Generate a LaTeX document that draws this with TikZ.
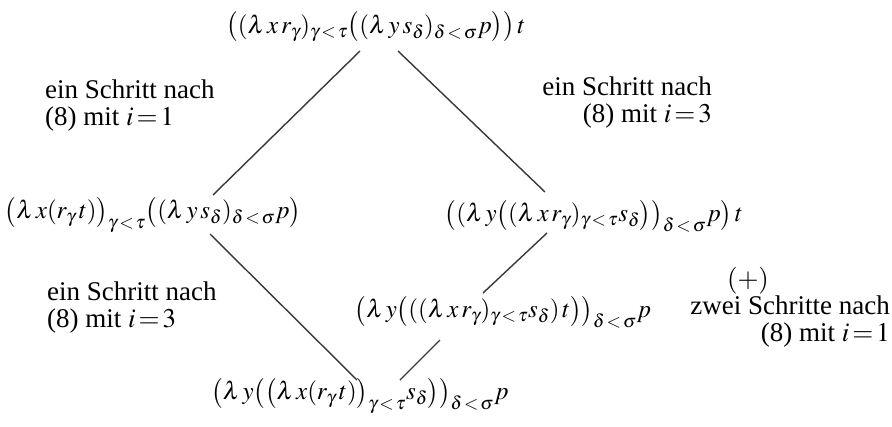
\documentclass[tikz,border=0pt]{standalone}
\usepackage{mathptmx}
\usepackage[no-math]{fontspec}
\setmainfont{Liberation Serif}
\usetikzlibrary{calc}
\tikzset{
  expr/.style={inner sep=0pt, font=\fontsize{25}{22}\selectfont},
  lbl/.style={inner sep=0pt, font=\fontsize{27}{25}\selectfont},
  conn/.style={line width=1.4pt, draw=black!78}
}
\begin{document}
\begin{tikzpicture}[x=1pt,y=-1pt]
\useasboundingbox (0,0) rectangle (892,426);
\node[expr] (top) at (376,27) {$\bigl((\lambda\,x\,r_\gamma)_{\gamma\,<\,\tau}\bigl((\lambda\,y\,s_\delta)_{\delta\,<\,\sigma}p\bigr)\bigr)\,t$};
\node[expr] (lm) at (153,215) {$\bigl(\lambda\,x(r_\gamma\,t)\bigr)_{\gamma\,<\,\tau}\bigl((\lambda\,y\,s_\delta)_{\delta\,<\,\sigma}p\bigr)$};
\node[expr] (rm) at (594,216) {$\bigl((\lambda\,y\bigl((\lambda\,x\,r_\gamma)_{\gamma\,<\,\tau}s_\delta\bigr)\bigr)_{\delta\,<\,\sigma}p\bigr)\,t$};
\node[expr] (low) at (503,312) {$\bigl(\lambda\,y\bigl(((\lambda\,x\,r_\gamma)_{\gamma\,<\,\tau}s_\delta)\,t\bigr)\bigr)_{\delta\,<\,\sigma}p$};
\node[expr] (bot) at (360,396) {$\bigl(\lambda\,y\bigl(\bigl(\lambda\,x(r_\gamma\,t)\bigr)_{\gamma\,<\,\tau}s_\delta\bigr)\bigr)_{\delta\,<\,\sigma}p$};

\node[lbl, anchor=west, align=left] (l1) at (45,106) {ein Schritt nach\\[2pt](8) mit $i\!=\!1$};
\node[lbl, anchor=east, align=right] (r1) at (712,103) {ein Schritt nach\\[2pt](8) mit $i\!=\!3$};
\node[lbl, anchor=west, align=left] (l2) at (47,308) {ein Schritt nach\\[2pt](8) mit $i\!=\!3$};
\node[lbl] (plus) at (748,281) {$(+)$};
\node[lbl, anchor=east, align=right] (r2) at (890,322) {zwei Schritte nach\\[2pt](8) mit $i\!=\!1$};

\draw[conn] ($(top.center)+(-16,24)$) -- ($(lm.center)+(60,-20)$);
\draw[conn] ($(top.center)+(22,24)$) -- ($(rm.center)+(-49,-24)$);
\draw[conn] ($(lm.center)+(57,19)$) -- ($(bot.center)+(-3,-16)$);
\draw[conn] ($(rm.center)+(-47,17)$) -- ($(low.center)+(-20,-19)$);
\draw[conn] ($(low.center)+(-63,28)$) -- ($(bot.center)+(40,-16)$);
\end{tikzpicture}
\end{document}
